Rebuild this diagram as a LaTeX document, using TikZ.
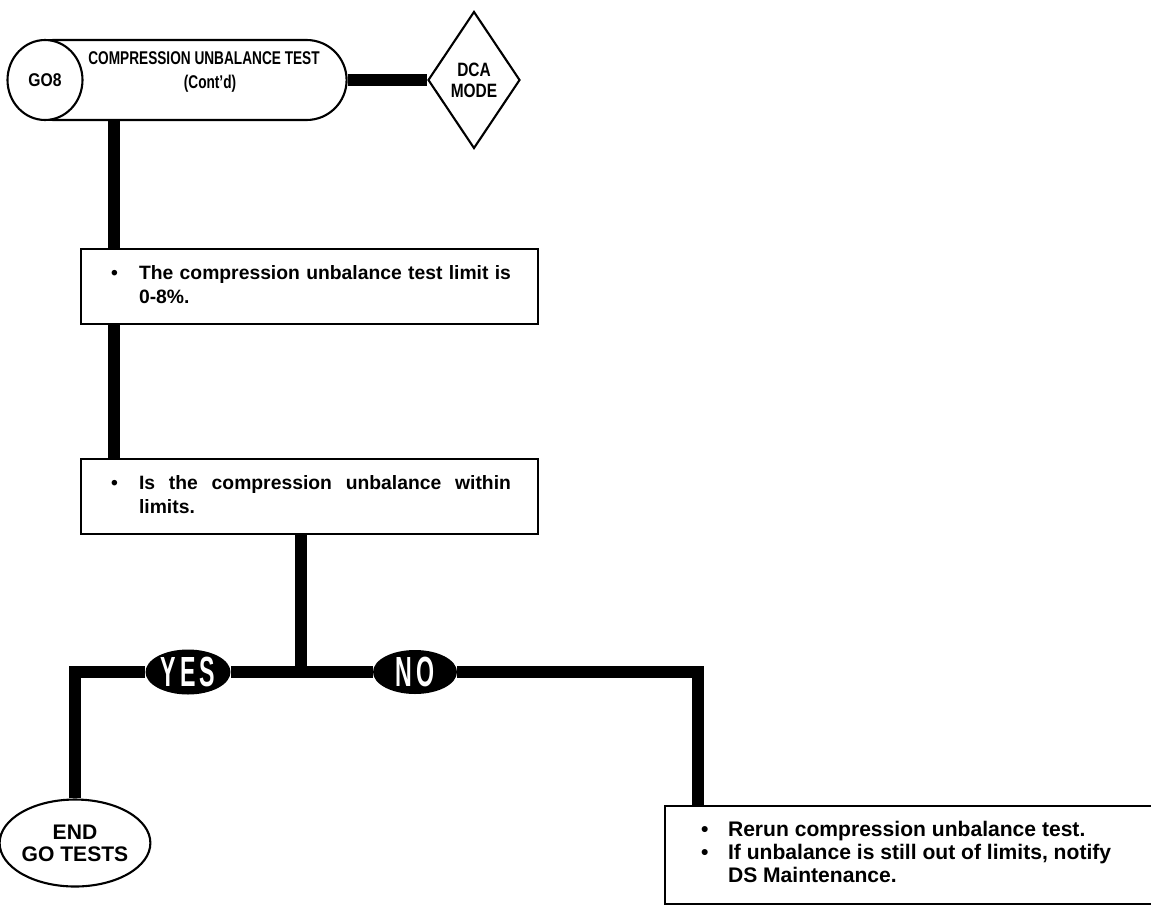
\documentclass[tikz,border=0pt]{standalone}
\usepackage{fontspec}
\setmainfont{Liberation Sans}
\setsansfont{Liberation Sans}
\usepackage{graphicx}
\usepackage{array}
\usetikzlibrary{shapes.geometric, shapes.misc, positioning}

\begin{document}
\begin{tikzpicture}[
        x=0.02cm, y=-0.02cm,
        % --- Looks used all over the chart ---
        every node/.style={font=\sffamily\bfseries},
        flow/.style={line width=0.24cm, line cap=butt},
        outline/.style={draw, line width=1.2pt},
        infobox/.style={outline, rectangle, anchor=north west, inner sep=0pt,
            font=\sffamily\bfseries\fontsize{11}{14}\selectfont},
        verdict/.style={ellipse, fill=black, text=white, inner sep=0pt,
            font=\sffamily\bfseries\fontsize{24}{24}\selectfont},
        terminal/.style={ellipse, outline, fill=white, inner sep=0pt, align=center,
            font=\sffamily\bfseries\fontsize{12}{12.5}\selectfont},
        headfont/.style={font=\sffamily\bfseries\fontsize{10.5}{11}\selectfont}
    ]
    \useasboundingbox (0,0) rectangle (1151,906);

    % ==================== 1. HEADER ====================
    \node[outline, rounded rectangle, minimum width=6.9cm, minimum height=1.6cm] (cap) at (180,80) {};
    \node[terminal, minimum width=1.5cm, minimum height=1.6cm, headfont] (g08) at (45,80) {\scalebox{0.85}[1]{GO8}};
    \node[headfont, anchor=west, inner sep=0pt] (title) at (88,58) {\scalebox{0.74}[1]{COMPRESSION UNBALANCE TEST}};
    \node[headfont, inner sep=0pt] (contd) at (210,84) {\scalebox{0.74}[1]{(Cont'd)}};
    \node[outline, diamond, inner sep=0pt, minimum width=1.84cm, minimum height=2.74cm, align=center,
          font=\sffamily\bfseries\fontsize{11}{12}\selectfont] (dca) at (474,80) {\scalebox{0.8}[1]{DCA}\\\scalebox{0.8}[1]{MODE}};

    % ==================== 2. TEST BOXES ====================
    \node[infobox, minimum width=9.14cm, minimum height=1.5cm] (limit) at (80,248)
        {\begin{tabular}{@{\hspace{0.6cm}}p{0.56cm}@{}p{7.44cm}@{\hspace{0.54cm}}}\textbullet &
         \hyphenpenalty=10000 The compression unbalance test limit is 0-8\%.\end{tabular}};
    \node[infobox, minimum width=9.14cm, minimum height=1.5cm] (within) at (80,458)
        {\begin{tabular}{@{\hspace{0.6cm}}p{0.56cm}@{}p{7.44cm}@{\hspace{0.54cm}}}\textbullet &
         \hyphenpenalty=10000 Is the compression unbalance within limits.\end{tabular}};
    \node[infobox, minimum width=9.92cm, minimum height=1.96cm, font=\sffamily\bfseries\fontsize{12}{13}\selectfont] (rerun) at (664,805)
        {\begin{tabular}{@{\hspace{0.72cm}}p{0.54cm}@{}>{\raggedright\arraybackslash}p{8cm}@{\hspace{0.66cm}}}\textbullet & Rerun compression unbalance test.\\
         \textbullet & If unbalance is still out of limits, notify DS Maintenance.\end{tabular}};

    % ==================== 3. DECISION & EXITS ====================
    \node[verdict, minimum width=1.7cm, minimum height=0.9cm] (yes) at (188,672) {\scalebox{0.55}[1]{Y\,E\,S}};
    \node[verdict, minimum width=1.68cm, minimum height=0.88cm] (no) at (415,672) {\scalebox{0.55}[1]{N\,O}};
    \node[terminal, minimum width=2.76cm, minimum height=1.74cm] (endgo) at (75,843) {END\\GO TESTS};

    \coordinate (spine)  at (114,0);
    \coordinate (fork)   at (301,672);
    \coordinate (nodrop) at (698,0);

    % ==================== 4. CONNECTORS ====================
    \draw[flow] (cap.east) -- (dca.west);
    \draw[flow] (spine |- cap.south) -- (spine |- limit.north);
    \draw[flow] (spine |- limit.south) -- (spine |- within.north);
    \draw[flow] (fork |- within.south) -- (fork);
    \draw[flow] (endgo.north) |- (yes.west);
    \draw[flow] (yes.east) -- (no.west);
    \draw[flow] (no.east) -| (nodrop |- rerun.north);

\end{tikzpicture}
\end{document}
